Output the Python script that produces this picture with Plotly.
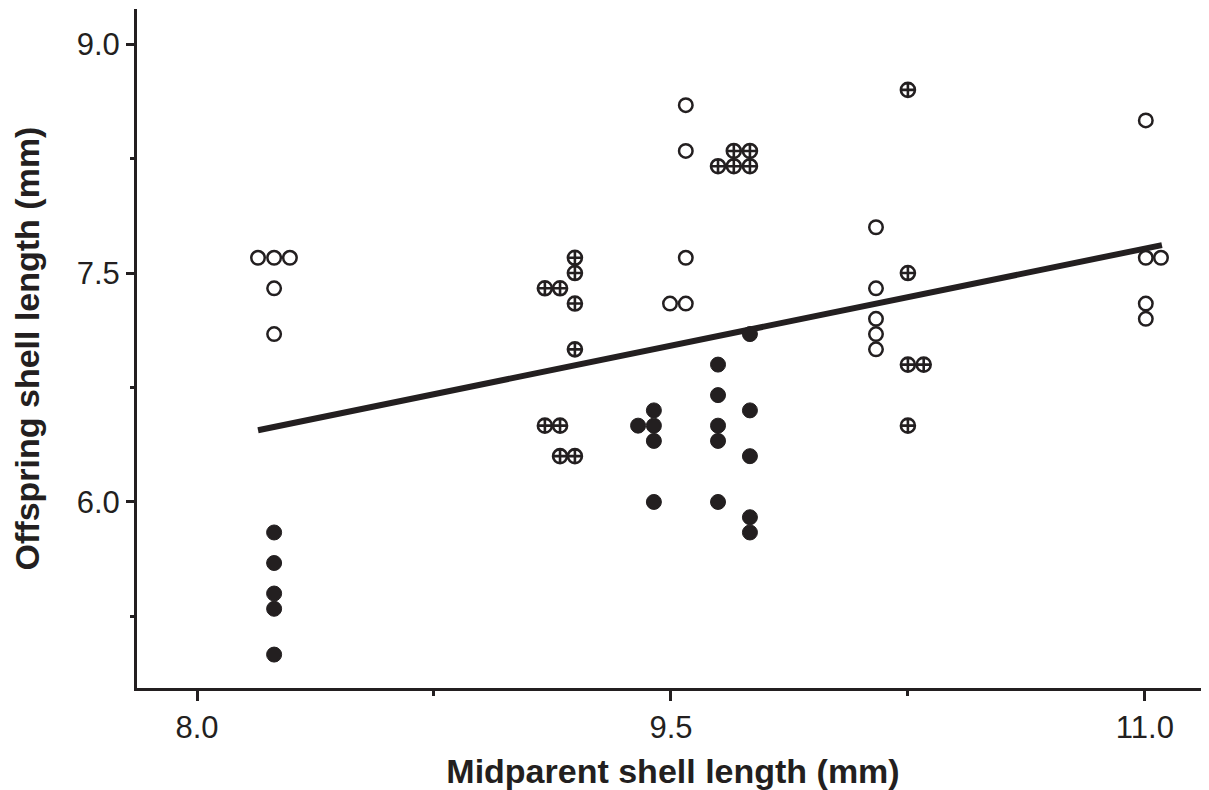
import plotly.graph_objects as go

INK = "#231f20"

# Open circles
open_x = [8.193, 8.244, 8.294, 8.244, 8.244,
          9.547, 9.547, 9.547, 9.497, 9.547,
          10.149, 10.149, 10.149, 10.149, 10.149,
          11.003, 11.003, 11.051, 11.003, 11.003]
open_y = [7.6, 7.6, 7.6, 7.4, 7.1,
          8.6, 8.3, 7.6, 7.3, 7.3,
          7.8, 7.4, 7.2, 7.1, 7.0,
          8.5, 7.6, 7.6, 7.3, 7.2]

# Crossed circles
cross_x = [9.196, 9.196, 9.101, 9.149, 9.196, 9.196, 9.101, 9.149, 9.149, 9.196,
           9.699, 9.750, 9.649, 9.699, 9.750,
           10.25, 10.25, 10.25, 10.30, 10.25]
cross_y = [7.6, 7.5, 7.4, 7.4, 7.3, 7.0, 6.5, 6.5, 6.3, 6.3,
           8.3, 8.3, 8.2, 8.2, 8.2,
           8.7, 7.5, 6.9, 6.9, 6.5]

# Filled circles
fill_x = [8.244, 8.244, 8.244, 8.244, 8.244,
          9.750, 9.649, 9.649, 9.750, 9.446,
          9.396, 9.446, 9.649, 9.446, 9.649,
          9.750, 9.446, 9.649, 9.750, 9.750]
fill_y = [5.8, 5.6, 5.4, 5.3, 5.0,
          7.1, 6.9, 6.7, 6.6, 6.6,
          6.5, 6.5, 6.5, 6.4, 6.4,
          6.3, 6.0, 6.0, 5.9, 5.8]

# Regression line end points
line_x = [8.193, 11.054]
line_y = [6.47, 7.683]

x_ticks = [8.0, 9.5, 11.0]
x_tick_labels = ["8.0", "9.5", "11.0"]
y_ticks = [6.0, 7.5, 9.0]
y_tick_labels = ["6.0", "7.5", "9.0"]

fig = go.Figure()
fig.add_trace(go.Scatter(x=line_x, y=line_y, mode="lines",
                         line=dict(color=INK, width=6), hoverinfo="skip"))
fig.add_trace(go.Scatter(x=open_x, y=open_y, mode="markers",
                         marker=dict(symbol="circle-open", size=13.5, color=INK,
                                     line=dict(width=2.5, color=INK))))
fig.add_trace(go.Scatter(x=cross_x, y=cross_y, mode="markers",
                         marker=dict(symbol="circle-cross-open", size=14, color=INK,
                                     line=dict(width=2.6, color=INK))))
fig.add_trace(go.Scatter(x=fill_x, y=fill_y, mode="markers",
                         marker=dict(symbol="circle", size=15, color=INK,
                                     line=dict(width=1, color=INK))))

axis_font = dict(family="Liberation Sans", size=31, color=INK)
title_font = dict(family="Liberation Sans", size=34, color=INK, weight="bold")

fig.update_layout(
    width=1201, height=782,
    margin=dict(l=129, r=0, t=1, b=97),
    paper_bgcolor="white", plot_bgcolor="white",
    showlegend=False,
    xaxis=dict(
        range=[7.81, 11.203], showgrid=False, zeroline=False,
        showline=True, linewidth=3, linecolor=INK,
        tickmode="array", tickvals=x_ticks, ticktext=x_tick_labels,
        ticks="outside", ticklen=10, tickwidth=3, tickcolor=INK,
        tickfont=axis_font,
        minor=dict(ticks="outside", ticklen=5, tickwidth=3, tickcolor=INK,
                   tickvals=[8.75, 10.25]),
        title=dict(text="Midparent shell length (mm)", font=title_font, standoff=21),
    ),
    yaxis=dict(
        range=[4.781, 9.23], showgrid=False, zeroline=False,
        showline=True, linewidth=3, linecolor=INK,
        tickmode="array", tickvals=y_ticks, ticktext=y_tick_labels,
        ticks="outside", ticklen=8, tickwidth=3, tickcolor=INK,
        tickfont=axis_font,
        minor=dict(ticks="outside", ticklen=4, tickwidth=3, tickcolor=INK,
                   tickvals=[5.25, 6.75, 8.25]),
        title=dict(text="Offspring shell length (mm)", font=title_font, standoff=27),
    ),
)

fig.write_html("out.html")
